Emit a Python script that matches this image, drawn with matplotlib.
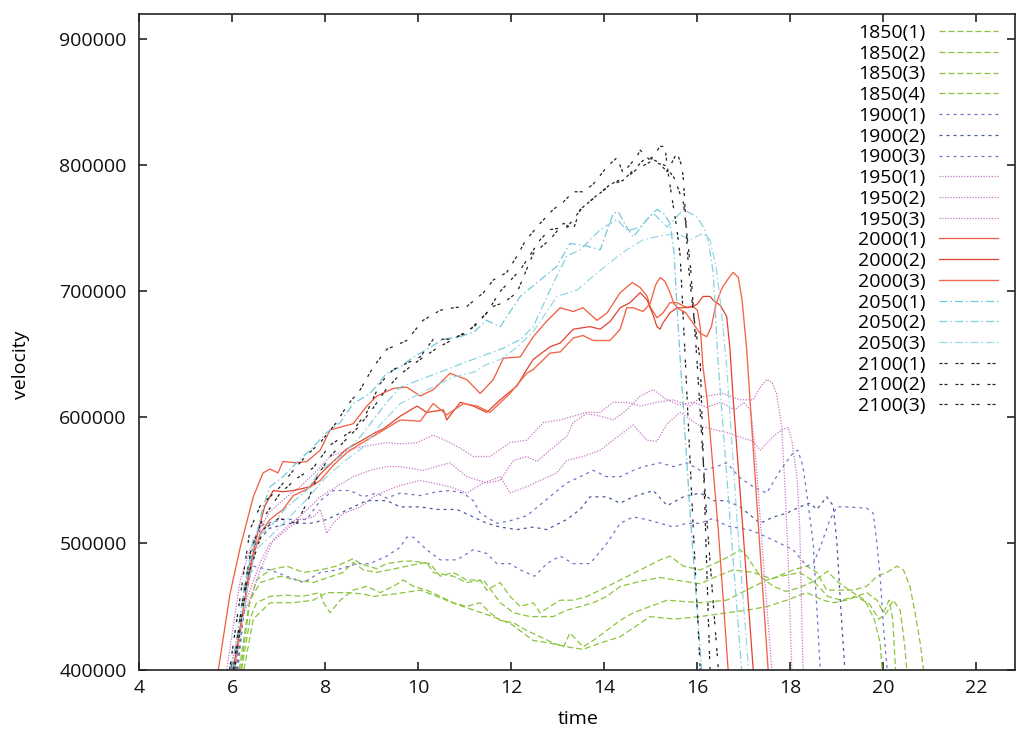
import matplotlib
matplotlib.use("Agg")
import matplotlib.pyplot as plt

plt.rcParams['font.family'] = ['Open Sans', 'DejaVu Sans']

UNIT = 1000  # velocity values below are in thousands

# ---- data: (time, velocity/1000) points ----
s_1850_1 = [(6.15,400),(6.35,450),(6.52,471),(6.81,479),(7.17,482),(7.53,477),(7.89,479),(8.24,482),(8.6,488),(8.75,484),(9.1,480),(9.32,484),(9.68,486),(9.89,486),(10.25,484),(10.47,474),(10.75,477),(11.04,471),(11.33,471),(11.47,463),(11.76,469),(11.97,458),(12.19,450),(12.47,453),(12.62,445),(12.83,450),(13.05,455),(13.33,455),(13.62,458),(13.91,463),(14.34,471),(14.77,479),(15.2,487),(15.41,490),(15.7,482),(16.06,479),(16.42,485),(16.7,490),(16.92,495),(17.06,490),(17.35,474),(17.63,466),(17.9,462),(18.2,465),(18.5,470),(18.8,478),(19.0,470),(19.3,462),(19.6,455),(19.8,440),(19.93,421),(19.97,400)]
s_1850_2 = [(6.18,400),(6.38,455),(6.6,469),(7.03,474),(7.38,471),(7.74,469),(8.38,477),(8.6,485),(8.82,479),(9.1,477),(9.5,480),(9.75,482),(10.18,485),(10.32,477),(10.75,474),(11.04,469),(11.4,471),(11.76,453),(12.05,445),(12.4,442),(12.9,442),(13.19,447),(13.48,450),(13.76,453),(14.05,458),(14.34,466),(14.77,470),(15.2,473),(15.7,470),(16.06,468),(16.42,474),(16.77,479),(17.2,477),(17.6,472),(18.06,479),(18.35,482),(18.57,477),(18.78,463),(19.06,463),(19.35,463),(19.64,466),(19.86,474),(20.07,477),(20.29,482),(20.43,479),(20.57,466),(20.68,445),(20.79,421),(20.86,400)]
s_1850_3 = [(6.2,400),(6.38,440),(6.52,453),(6.81,458),(7.17,459),(7.5,458),(7.89,461),(7.96,453),(8.1,445),(8.32,455),(8.6,463),(8.89,466),(9.18,461),(9.46,466),(9.68,471),(9.89,466),(10.18,463),(10.47,458),(10.75,453),(11.04,450),(11.33,453),(11.54,445),(11.76,439),(12.05,437),(12.33,431),(12.62,426),(12.9,421),(13.12,418),(13.26,429),(13.54,418),(13.76,423),(14.05,431),(14.34,439),(14.62,445),(14.98,450),(15.35,455),(15.7,454),(16.06,453),(16.63,455),(17.0,462),(17.49,471),(17.8,474),(18.2,477),(18.5,470),(18.8,458),(19.1,455),(19.4,458),(19.7,452),(19.9,440),(20.07,445),(20.21,455),(20.36,447),(20.46,418),(20.5,400)]
s_1850_4 = [(6.25,400),(6.45,440),(6.81,453),(7.31,453),(7.74,455),(8.03,461),(8.46,461),(8.8,460),(9.03,458),(9.5,460),(10.04,463),(10.4,458),(10.8,452),(11.2,447),(11.6,442),(12.0,436),(12.47,423),(12.83,421),(13.2,418),(13.54,416),(13.91,421),(14.34,426),(14.98,442),(15.5,440),(16.06,442),(16.63,445),(17.06,447),(17.5,450),(17.92,455),(18.35,461),(18.7,455),(18.92,453),(19.21,455),(19.64,461),(19.86,455),(20.0,445),(20.12,455),(20.2,440),(20.26,400)]

s_1900_1 = [(6.08,400),(6.3,470),(6.45,500),(6.66,515),(7.09,519),(7.6,519),(7.89,534),(8.17,542),(8.53,542),(8.82,537),(9.1,540),(9.32,536),(9.61,540),(10.04,538),(10.4,541),(10.68,542),(10.97,540),(11.18,534),(11.33,524),(11.69,516),(11.97,518),(12.33,522),(12.76,535),(13.19,548),(13.48,553),(13.76,558),(14.05,553),(14.34,553),(14.62,558),(14.84,561),(15.2,564),(15.48,561),(15.77,564),(16.06,558),(16.34,560),(16.63,564),(16.92,552),(17.2,545),(17.49,540),(17.78,558),(18.06,572),(18.16,574),(18.27,561),(18.35,540),(18.49,500),(18.64,400)]
s_1900_2 = [(6.1,400),(6.3,460),(6.5,500),(6.8,512),(7.2,516),(7.67,516),(8.03,519),(8.32,524),(8.89,534),(9.32,534),(9.61,529),(10.04,529),(10.4,527),(10.83,527),(11.18,521),(11.47,516),(11.76,513),(12.12,511),(12.47,513),(12.76,511),(13.19,519),(13.48,527),(13.69,537),(14.05,537),(14.34,532),(14.62,537),(15.05,542),(15.35,530),(15.7,537),(16.06,540),(16.34,534),(16.63,534),(16.92,529),(17.35,516),(17.63,521),(17.92,524),(18.2,529),(18.42,532),(18.57,527),(18.78,537),(18.92,530),(19.0,500),(19.08,450),(19.17,400)]
s_1900_3 = [(6.12,400),(6.3,465),(6.45,482),(6.81,479),(7.17,474),(7.53,469),(7.89,477),(8.24,479),(8.68,484),(8.96,484),(9.32,490),(9.61,497),(9.75,505),(9.89,505),(10.18,495),(10.47,487),(10.83,487),(11.18,495),(11.47,492),(11.69,484),(11.97,484),(12.19,479),(12.5,474),(12.76,484),(13.05,490),(13.33,484),(13.69,484),(14.05,500),(14.34,516),(14.62,521),(14.91,519),(15.2,516),(15.48,513),(15.77,516),(16.06,516),(16.34,520),(16.63,514),(16.92,512),(17.2,510),(17.49,505),(17.78,500),(18.06,495),(18.35,482),(18.49,484),(18.64,497),(18.85,519),(19.0,529),(19.21,529),(19.64,528),(19.78,524),(19.86,500),(19.93,473),(20.0,434),(20.08,400)]

s_1950_1 = [(5.88,400),(6.17,471),(6.45,503),(6.8,525),(7.17,537),(7.46,545),(7.82,558),(8.1,569),(8.46,574),(8.82,577),(9.32,580),(9.61,579),(9.97,580),(10.32,586),(10.68,580),(10.97,574),(11.18,569),(11.54,569),(11.97,580),(12.33,582),(12.69,596),(13.05,598),(13.33,601),(13.62,604),(13.91,604),(14.19,612),(14.48,612),(14.77,609),(15.13,612),(15.48,614),(15.84,609),(16.06,616),(16.55,619),(16.92,614),(17.2,614),(17.35,624),(17.49,630),(17.6,628),(17.7,619),(17.81,593),(17.89,540),(17.95,487),(18.03,400)]
s_1950_2 = [(5.95,400),(6.2,440),(6.45,463),(6.6,479),(6.88,503),(7.17,513),(7.53,524),(7.89,537),(8.24,545),(8.6,553),(8.96,558),(9.32,561),(9.61,561),(10.1,558),(10.68,564),(11.04,553),(11.47,548),(11.76,550),(12.05,566),(12.33,569),(12.55,565),(12.83,574),(13.19,585),(13.33,596),(13.62,603),(13.91,601),(14.2,598),(14.48,606),(14.77,617),(15.05,622),(15.3,615),(15.6,610),(15.9,612),(16.2,608),(16.5,612),(16.8,606),(17.0,612),(17.15,605),(17.25,570),(17.35,520),(17.45,470),(17.6,400)]
s_1950_3 = [(6.0,400),(6.3,455),(6.6,485),(6.81,500),(7.17,511),(7.46,519),(7.74,521),(7.89,527),(8.03,508),(8.17,516),(8.39,524),(8.76,529),(9.03,537),(9.32,542),(9.61,546),(10.04,550),(10.3,548),(10.68,545),(11.04,540),(11.4,548),(11.76,553),(11.97,540),(12.33,545),(12.62,550),(12.98,556),(13.19,566),(13.54,569),(13.91,574),(14.19,582),(14.62,594),(14.91,582),(15.13,581),(15.35,595),(15.63,604),(16.06,593),(16.63,588),(17.2,581),(17.35,574),(17.63,585),(17.81,590),(17.95,592),(18.03,582),(18.14,553),(18.2,513),(18.27,400)]

s_2000_1 = [(5.70,400),(5.95,460),(6.17,497),(6.45,537),(6.66,556),(6.81,559),(6.98,556),(7.09,565),(7.38,564),(7.60,565),(7.89,574),(8.10,590),(8.39,593),(8.60,595),(8.89,609),(9.11,617),(9.46,623),(9.75,624),(10.04,617),(10.32,622),(10.68,635),(11.04,630),(11.33,619),(11.61,630),(11.83,647),(12.19,648),(12.47,664),(12.75,676),(13.05,687),(13.33,684),(13.54,687),(13.84,677),(14.06,683),(14.34,699),(14.60,707),(14.77,703),(14.92,696),(14.98,688),(15.13,679),(15.26,683),(15.41,691),(15.56,691),(15.78,687),(15.91,688),(16.00,685),(16.06,672),(16.12,640),(16.21,614),(16.45,510),(16.66,400)]
s_2000_2 = [(6.02,400),(6.2,440),(6.35,475),(6.52,505),(6.7,530),(6.88,542),(7.09,541),(7.31,542),(7.67,545),(7.89,555),(8.17,565),(8.46,575),(8.75,581),(9.03,587),(9.25,591),(9.61,601),(9.97,609),(10.18,604),(10.54,606),(10.61,598),(10.9,612),(11.18,609),(11.47,604),(11.76,614),(12.12,625),(12.33,638),(12.47,646),(12.83,656),(13.05,659),(13.33,670),(13.69,672),(13.91,670),(14.12,676),(14.34,687),(14.55,691),(14.77,699),(14.92,693),(15.05,681),(15.13,672),(15.2,670),(15.26,675),(15.41,683),(15.56,687),(15.7,687),(15.9,688),(16.0,690),(16.12,696),(16.27,696),(16.34,693),(16.49,689),(16.63,680),(16.7,654),(16.77,614),(17.0,500),(17.2,400)]
s_2000_3 = [(6.05,400),(6.25,450),(6.45,490),(6.6,508),(6.81,519),(7.09,527),(7.31,538),(7.6,543),(7.89,550),(8.17,562),(8.46,572),(8.75,579),(9.03,585),(9.25,590),(9.61,598),(10.04,597),(10.32,611),(10.61,602),(10.97,611),(11.26,609),(11.54,604),(11.97,619),(12.33,635),(12.47,638),(12.83,651),(13.05,652),(13.33,663),(13.54,665),(13.76,661),(14.12,661),(14.34,670),(14.48,687),(14.62,687),(14.83,684),(14.98,690),(15.1,705),(15.2,711),(15.3,708),(15.4,700),(15.5,690),(15.6,686),(15.75,683),(15.9,675),(16.05,667),(16.2,664),(16.3,672),(16.4,690),(16.5,700),(16.55,704),(16.7,712),(16.77,715),(16.88,711),(16.96,693),(17.06,654),(17.13,614),(17.3,520),(17.52,400)]

s_2050_1 = [(5.99,400),(6.2,450),(6.38,485),(6.66,529),(6.81,545),(7.09,553),(7.38,564),(7.67,574),(8.03,588),(8.32,596),(8.6,611),(8.96,619),(9.32,635),(9.61,640),(9.82,646),(10.18,654),(10.54,662),(10.9,664),(11.2,668),(11.47,677),(11.76,672),(12.19,696),(12.62,709),(12.98,720),(13.26,738),(13.62,736),(13.91,733),(14.19,762),(14.3,763),(14.48,751),(14.62,743),(14.91,757),(15.13,765),(15.27,762),(15.41,754),(15.5,730),(15.56,688),(15.63,646),(15.85,520),(16.09,400)]
s_2050_2 = [(6.02,400),(6.25,465),(6.45,503),(6.81,513),(7.17,529),(7.6,542),(7.89,558),(8.32,569),(8.76,585),(9.32,612),(9.61,624),(10.04,630),(10.47,636),(10.75,640),(11.1,645),(11.47,650),(11.83,655),(12.2,662),(12.47,672),(12.83,701),(13.19,728),(13.48,733),(13.91,749),(14.27,757),(14.5,748),(14.77,751),(15.05,762),(15.35,751),(15.7,765),(15.99,759),(16.13,751),(16.23,741),(16.34,715),(16.44,646),(16.7,520),(16.95,400)]
s_2050_3 = [(6.05,400),(6.3,460),(6.5,495),(6.8,505),(7.2,520),(7.6,535),(8.0,552),(8.4,565),(8.8,576),(9.2,595),(9.61,611),(10.04,619),(10.47,627),(10.75,632),(11.2,636),(11.47,642),(11.76,646),(12.1,655),(12.47,668),(12.98,696),(13.41,701),(13.76,712),(14.12,723),(14.48,733),(14.84,741),(15.2,744),(15.56,746),(15.84,741),(16.12,746),(16.27,741),(16.4,720),(16.5,690),(16.63,640),(16.85,520),(17.1,400)]

s_2100_1 = [(5.94,400),(6.17,458),(6.38,511),(6.6,530),(6.81,537),(7.03,545),(7.31,558),(7.6,570),(7.89,580),(8.24,596),(8.46,609),(8.75,622),(9.03,640),(9.32,654),(9.75,661),(10.1,677),(10.47,685),(10.76,687),(11.04,688),(11.4,699),(11.61,709),(11.9,715),(12.12,728),(12.3,740),(12.62,754),(12.9,765),(13.12,771),(13.33,779),(13.54,779),(13.76,785),(14.06,799),(14.27,806),(14.4,794),(14.7,807),(14.77,812),(14.98,804),(15.2,815),(15.3,815),(15.37,794),(15.45,775),(15.56,749),(15.63,728),(15.74,645),(15.9,520),(16.06,400)]
s_2100_2 = [(6.02,400),(6.2,450),(6.4,495),(6.66,520),(7.03,540),(7.4,552),(7.74,560),(8.1,578),(8.6,590),(8.89,604),(9.18,627),(9.46,638),(10.04,648),(10.32,662),(10.68,662),(11.04,667),(11.47,683),(11.76,700),(12.19,717),(12.62,741),(12.83,749),(13.2,751),(13.54,767),(13.91,778),(14.19,786),(14.48,791),(14.7,799),(14.92,807),(15.13,803),(15.35,795),(15.56,810),(15.67,799),(15.7,788),(15.74,762),(15.8,723),(15.91,683),(16.06,645),(16.27,400)]
s_2100_3 = [(6.05,400),(6.31,471),(6.66,511),(7.0,520),(7.38,516),(7.6,532),(7.85,555),(8.1,569),(8.38,580),(8.7,592),(9.0,606),(9.3,622),(9.6,634),(10.0,645),(10.4,655),(10.8,663),(11.2,672),(11.6,688),(11.83,691),(12.12,699),(12.47,730),(12.83,741),(13.12,754),(13.33,749),(13.48,765),(13.8,775),(14.1,784),(14.4,788),(14.7,797),(15.0,803),(15.3,800),(15.5,790),(15.7,770),(15.85,720),(16.0,640),(16.2,520),(16.45,400)]

labels = ["1850(1)", "1850(2)", "1850(3)", "1850(4)",
          "1900(1)", "1900(2)", "1900(3)",
          "1950(1)", "1950(2)", "1950(3)",
          "2000(1)", "2000(2)", "2000(3)",
          "2050(1)", "2050(2)", "2050(3)",
          "2100(1)", "2100(2)", "2100(3)"]
series = [s_1850_1, s_1850_2, s_1850_3, s_1850_4,
          s_1900_1, s_1900_2, s_1900_3,
          s_1950_1, s_1950_2, s_1950_3,
          s_2000_1, s_2000_2, s_2000_3,
          s_2050_1, s_2050_2, s_2050_3,
          s_2100_1, s_2100_2, s_2100_3]

x_ticks = [4, 6, 8, 10, 12, 14, 16, 18, 20, 22]
y_ticks = [400000, 500000, 600000, 700000, 800000, 900000]

# ---- styles ----
GREEN = (0, (4.8, 2.4))
BLUE = (0, (2.4, 3.2))
DOT = (0, (1.0, 1.2))
DASHDOT = (0, (6.4, 2.4, 1.2, 2.4))
BLACK = (0, (2.4, 1.6, 2.4, 6.4))
styles = [
    ('#8cc43e', GREEN, 0.9), ('#8cc43e', GREEN, 0.9), ('#8cc43e', GREEN, 0.9), ('#8cc43e', GREEN, 0.9),
    ('#7373c8', BLUE, 0.9), ('#4a5a9c', BLUE, 0.9), ('#7373c8', BLUE, 0.9),
    ('#c878c8', DOT, 0.9), ('#c878c8', DOT, 0.9), ('#c878c8', DOT, 0.9),
    ('#f05a3c', '-', 0.9), ('#e2432e', '-', 0.9), ('#f26a4e', '-', 1.0),
    ('#70c8dc', DASHDOT, 0.9), ('#84d0e0', DASHDOT, 0.9), ('#9ad8e6', DASHDOT, 0.9),
    ('#222222', BLACK, 0.9), ('#222222', BLACK, 0.9), ('#222222', BLACK, 0.9),
]

FS = 14

fig = plt.figure(figsize=(10.17, 7.31), dpi=100)
ax = fig.add_axes([0.1370, 0.0841, 0.8611, 0.8967])

handles = []
for s, lab, (c, ls, lw) in zip(series, labels, styles):
    t = [p[0] for p in s]
    v = [p[1] * UNIT for p in s]
    h, = ax.plot(t, v, color=c, linestyle=ls, linewidth=lw, label=lab)
    handles.append(h)

ax.set_xlim(4, 22.83)
ax.set_ylim(400000, 920000)
ax.set_xticks(x_ticks)
ax.set_yticks(y_ticks)
ax.set_yticklabels([str(v) for v in y_ticks])
ax.tick_params(direction='in', length=6, width=1.1, top=True, right=True,
               labelsize=FS, colors='#111111')
ax.tick_params(axis='x', pad=7)
ax.tick_params(axis='y', pad=9)
for sp in ax.spines.values():
    sp.set_linewidth(1.2)
    sp.set_color('#222222')

ax.set_xlabel('time', fontsize=FS)
ax.set_ylabel('velocity', fontsize=FS)
ax.xaxis.set_label_coords(0.501, -0.061)
ax.yaxis.set_label_coords(-0.125, 0.465)

leg = ax.legend(handles=handles, labels=labels, loc='upper right',
                bbox_to_anchor=(0.981, 0.985), frameon=False, markerfirst=False,
                fontsize=FS, handlelength=3.04, handletextpad=0.72,
                labelspacing=0.141, borderpad=0, borderaxespad=0)

fig.savefig('out.png', dpi=100)
